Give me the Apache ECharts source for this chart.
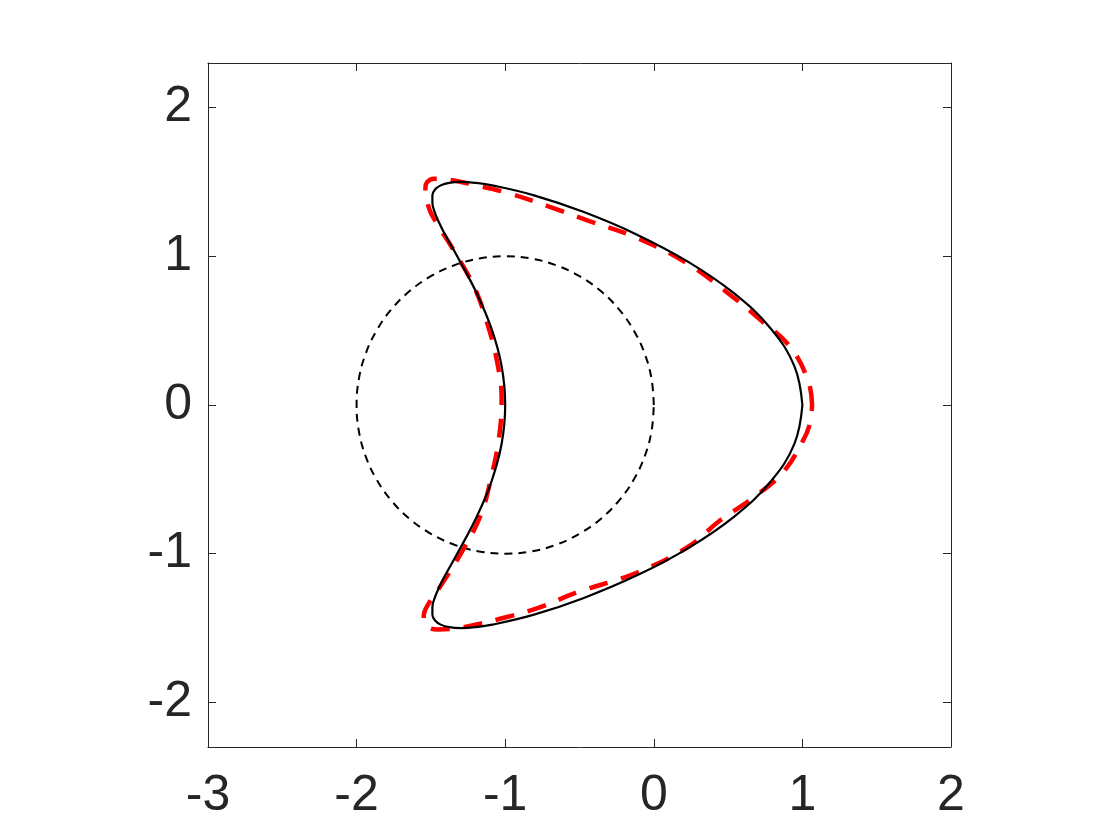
<!DOCTYPE html>
<html>
<head>
<meta charset="utf-8">
<script src="https://cdn.jsdelivr.net/npm/echarts@6/dist/echarts.min.js"></script>
<style>html,body{margin:0;padding:0;background:#fff}#c{width:1120px;height:840px}</style>
</head>
<body>
<div id="c"></div>
<script>
// tick labels
const xTicks = [-3, -2, -1, 0, 1, 2];
const yTicks = [-2, -1, 0, 1, 2];

// exact boundary (black solid), [x, y]
const exactCurve = [
  [1.000, 0.000], [0.946, 0.261], [0.788, 0.513], [0.541, 0.750], [0.229, 0.964],
  [-0.120, 1.149], [-0.475, 1.299], [-0.806, 1.410], [-1.087, 1.477], [-1.203, 1.494],
  [-1.300, 1.500], [-1.377, 1.494], [-1.434, 1.477], [-1.472, 1.449], [-1.490, 1.410],
  [-1.490, 1.360], [-1.475, 1.299], [-1.446, 1.229], [-1.406, 1.149], [-1.303, 0.964],
  [-1.191, 0.750], [-1.092, 0.513], [-1.024, 0.261], [-1.000, 0.000],
  [-1.024, -0.261], [-1.092, -0.513], [-1.191, -0.750], [-1.303, -0.964], [-1.406, -1.149],
  [-1.446, -1.229], [-1.475, -1.299], [-1.490, -1.360], [-1.490, -1.410], [-1.472, -1.449],
  [-1.434, -1.477], [-1.377, -1.494], [-1.300, -1.500], [-1.203, -1.494], [-1.087, -1.477],
  [-0.806, -1.410], [-0.475, -1.299], [-0.120, -1.149], [0.229, -0.964], [0.541, -0.750],
  [0.788, -0.513], [0.946, -0.261], [1.000, 0.000]
];

// reconstructed boundary (red dashed), [x, y]
const reconCurve = [
  [1.065, 0.000], [1.040, 0.160], [0.917, 0.392], [0.715, 0.574], [0.493, 0.757],
  [0.220, 0.955], [-0.120, 1.127], [-0.443, 1.240], [-0.705, 1.334], [-0.958, 1.419],
  [-1.220, 1.483], [-1.400, 1.518], [-1.480, 1.522], [-1.525, 1.500], [-1.537, 1.460],
  [-1.528, 1.380], [-1.496, 1.284], [-1.351, 1.047], [-1.210, 0.797], [-1.125, 0.563],
  [-1.057, 0.304], [-1.024, 0.040], [-1.042, -0.223], [-1.096, -0.493], [-1.163, -0.736],
  [-1.287, -0.980], [-1.439, -1.223], [-1.515, -1.335], [-1.548, -1.420], [-1.545, -1.465],
  [-1.510, -1.500], [-1.450, -1.510], [-1.287, -1.495], [-1.028, -1.436], [-0.773, -1.363],
  [-0.519, -1.261], [-0.120, -1.130], [0.229, -0.955], [0.445, -0.777], [0.659, -0.630],
  [0.871, -0.451], [1.006, -0.236], [1.051, -0.124], [1.065, 0.000]
];

// unit circle centred at (-1, 0) (black dashed), [x, y]
const unitCircle = [
  [0.000, 0.000], [-0.015, 0.174], [-0.060, 0.342], [-0.134, 0.500], [-0.234, 0.643],
  [-0.357, 0.766], [-0.500, 0.866], [-0.658, 0.940], [-0.826, 0.985], [-1.000, 1.000],
  [-1.174, 0.985], [-1.342, 0.940], [-1.500, 0.866], [-1.643, 0.766], [-1.766, 0.643],
  [-1.866, 0.500], [-1.940, 0.342], [-1.985, 0.174], [-2.000, 0.000],
  [-1.985, -0.174], [-1.940, -0.342], [-1.866, -0.500], [-1.766, -0.643], [-1.643, -0.766],
  [-1.500, -0.866], [-1.342, -0.940], [-1.174, -0.985], [-1.000, -1.000], [-0.826, -0.985],
  [-0.658, -0.940], [-0.500, -0.866], [-0.357, -0.766], [-0.234, -0.643], [-0.134, -0.500],
  [-0.060, -0.342], [-0.015, -0.174], [0.000, 0.000]
];

const axisColor = '#262626';
const labelFont = { color: axisColor, fontSize: 50, fontFamily: 'Liberation Sans, Arial, sans-serif' };

const chart = echarts.init(document.getElementById('c'), null, { renderer: 'canvas' });
chart.setOption({
  animation: false,
  backgroundColor: '#ffffff',
  grid: { left: 208, right: 169, top: 63, bottom: 93, containLabel: false, outerBoundsMode: 'none' },
  xAxis: [
    {
      type: 'value', min: -3, max: 2, interval: 1, position: 'bottom',
      axisLine: { onZero: false, lineStyle: { color: axisColor, width: 1 } },
      axisTick: { inside: true, length: 8, lineStyle: { color: axisColor } },
      axisLabel: Object.assign({ margin: 24, customValues: xTicks }, labelFont),
      splitLine: { show: false }
    },
    {
      type: 'value', min: -3, max: 2, interval: 1, position: 'top',
      axisLine: { onZero: false, lineStyle: { color: axisColor, width: 1 } },
      axisTick: { inside: true, length: 8, lineStyle: { color: axisColor } },
      axisLabel: { show: false },
      splitLine: { show: false }
    }
  ],
  yAxis: [
    {
      type: 'value', min: -2.3, max: 2.3, position: 'left',
      axisLine: { show: true, onZero: false, lineStyle: { color: axisColor, width: 1 } },
      axisTick: { show: true, inside: true, length: 8, customValues: yTicks, lineStyle: { color: axisColor } },
      axisLabel: Object.assign({ margin: 16, customValues: yTicks }, labelFont),
      splitLine: { show: false }
    },
    {
      type: 'value', min: -2.3, max: 2.3, position: 'right',
      axisLine: { show: true, onZero: false, lineStyle: { color: axisColor, width: 1 } },
      axisTick: { show: true, inside: true, length: 8, customValues: yTicks, lineStyle: { color: axisColor } },
      axisLabel: { show: false },
      splitLine: { show: false }
    }
  ],
  series: [
    {
      type: 'line', data: unitCircle, xAxisIndex: 0, yAxisIndex: 0,
      showSymbol: false, symbol: 'none', smooth: 0.4,
      lineStyle: { color: '#000000', width: 2, type: [8, 6] }
    },
    {
      type: 'line', data: reconCurve, xAxisIndex: 0, yAxisIndex: 0,
      showSymbol: false, symbol: 'none', smooth: 0.4,
      lineStyle: { color: '#ff0000', width: 4.5, type: [19, 14] }
    },
    {
      type: 'line', data: exactCurve, xAxisIndex: 0, yAxisIndex: 0,
      showSymbol: false, symbol: 'none', smooth: 0.4,
      lineStyle: { color: '#000000', width: 2.2 }
    }
  ]
});
</script>
</body>
</html>
